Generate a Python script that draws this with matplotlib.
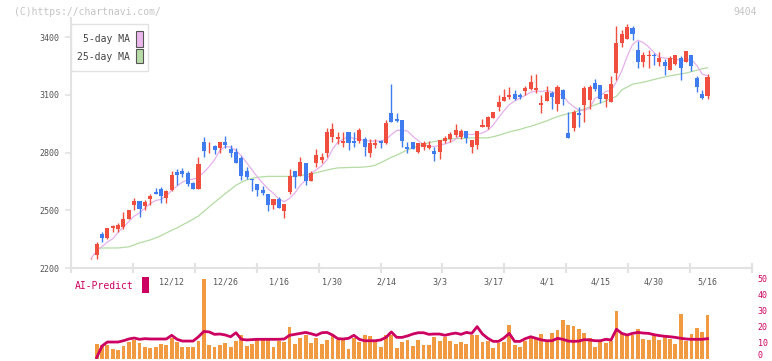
import numpy as np
import pandas as pd
import matplotlib
matplotlib.use("Agg")
import matplotlib.pyplot as plt
from matplotlib.patches import Rectangle

# ---------------- data ----------------
opens = [2250, 2269, 2377, 2356, 2408, 2401, 2411, 2453, 2529, 2549,
         2522, 2560, 2595, 2612, 2564, 2605, 2699, 2705, 2695, 2643,
         2612, 2855, 2832, 2834, 2823, 2855, 2820, 2803, 2771, 2705,
         2662, 2636, 2605, 2584, 2529, 2557, 2498, 2595, 2702, 2678,
         2744, 2654, 2747, 2761, 2796, 2879, 2872, 2851, 2907, 2861,
         2858, 2872, 2799, 2841, 2858, 2851, 3007, 2972, 2969, 2827,
         2855, 2803, 2827, 2824, 2809, 2803, 2861, 2872, 2892, 2882,
         2910, 2830, 2841, 2931, 2934, 2979, 3038, 3069, 3087, 3105,
         3100, 3121, 3128, 3125, 3045, 3069, 3111, 3054, 3123, 2899,
         2926, 3005, 3045, 3074, 3161, 3151, 3078, 3064, 3213, 3369,
         3390, 3445, 3334, 3268, 3302, 3306, 3268, 3268, 3230, 3261,
         3289, 3272, 3306, 3189, 3106, 3095]
highs = [2252, 2335, 2387, 2408, 2422, 2432, 2491, 2501, 2564, 2549,
         2554, 2584, 2616, 2622, 2605, 2705, 2716, 2720, 2705, 2647,
         2778, 2882, 2855, 2840, 2855, 2886, 2840, 2823, 2782, 2726,
         2664, 2636, 2626, 2584, 2557, 2570, 2533, 2716, 2702, 2775,
         2744, 2702, 2817, 2796, 2928, 2952, 2907, 2907, 2907, 2907,
         2928, 2882, 2868, 2872, 2865, 2969, 3156, 3003, 2969, 2855,
         2855, 2848, 2861, 2861, 2827, 2865, 2886, 2907, 2948, 2920,
         2910, 2865, 2913, 2972, 2990, 3010, 3097, 3128, 3138, 3125,
         3107, 3145, 3201, 3208, 3097, 3145, 3121, 3151, 3130, 3012,
         3019, 3036, 3147, 3151, 3182, 3151, 3106, 3199, 3456, 3435,
         3466, 3456, 3379, 3320, 3334, 3316, 3323, 3285, 3303, 3306,
         3299, 3327, 3306, 3196, 3123, 3206]
lows = [2248, 2248, 2335, 2349, 2387, 2387, 2404, 2453, 2501, 2463,
        2501, 2529, 2584, 2539, 2536, 2598, 2633, 2674, 2626, 2612,
        2612, 2778, 2799, 2792, 2796, 2823, 2778, 2747, 2657, 2664,
        2602, 2574, 2581, 2498, 2508, 2512, 2460, 2584, 2616, 2678,
        2633, 2654, 2726, 2747, 2778, 2855, 2844, 2827, 2813, 2827,
        2851, 2782, 2778, 2823, 2823, 2844, 2958, 2958, 2830, 2799,
        2820, 2796, 2813, 2820, 2758, 2768, 2851, 2855, 2882, 2872,
        2851, 2799, 2820, 2931, 2920, 2979, 3017, 3069, 3080, 3073,
        3076, 3097, 3125, 3107, 3007, 3069, 3028, 3014, 3045, 2874,
        2912, 2932, 2960, 3026, 3120, 3057, 3036, 3064, 3178, 3347,
        3390, 3386, 3240, 3244, 3240, 3254, 3251, 3202, 3226, 3254,
        3178, 3272, 3223, 3112, 3078, 3078]
closes = [2252, 2325, 2356, 2408, 2418, 2422, 2456, 2501, 2549, 2505,
          2543, 2574, 2584, 2574, 2602, 2683, 2685, 2688, 2636, 2612,
          2741, 2809, 2836, 2813, 2855, 2841, 2796, 2747, 2678, 2671,
          2658, 2605, 2591, 2529, 2557, 2512, 2533, 2678, 2671, 2751,
          2654, 2692, 2785, 2775, 2907, 2920, 2882, 2861, 2848, 2851,
          2917, 2830, 2851, 2851, 2848, 2955, 2958, 2962, 2861, 2820,
          2820, 2848, 2848, 2841, 2792, 2865, 2875, 2896, 2917, 2913,
          2875, 2865, 2913, 2941, 2983, 3010, 3062, 3087, 3100, 3076,
          3087, 3135, 3166, 3135, 3059, 3114, 3090, 3141, 3078, 2877,
          3009, 2995, 3133, 3140, 3130, 3078, 3106, 3154, 3369, 3414,
          3452, 3414, 3268, 3306, 3306, 3302, 3292, 3247, 3292, 3306,
          3240, 3327, 3247, 3140, 3085, 3192]
ma25 = [np.nan, 2304, 2304, 2304, 2304, 2304, 2307, 2310, 2320, 2331,
        2338, 2346, 2356, 2368, 2382, 2396, 2408, 2424, 2438, 2454,
        2470, 2494, 2518, 2541, 2564, 2586, 2608, 2630, 2645, 2657,
        2666, 2671, 2674, 2676, 2676, 2676, 2676, 2676, 2676, 2680,
        2684, 2688, 2695, 2702, 2709, 2715, 2720, 2721, 2722, 2723,
        2723, 2725, 2728, 2734, 2747, 2761, 2775, 2787, 2800, 2813,
        2824, 2834, 2843, 2851, 2857, 2862, 2867, 2870, 2872, 2873,
        2875, 2876, 2876, 2876, 2876, 2882, 2889, 2898, 2907, 2914,
        2920, 2929, 2936, 2945, 2955, 2964, 2976, 2986, 2995, 3002,
        3009, 3018, 3026, 3037, 3047, 3058, 3068, 3080, 3092, 3125,
        3140, 3155, 3160, 3165, 3172, 3179, 3186, 3192, 3198, 3203,
        3208, 3213, 3220, 3227, 3235, 3240]
volume = [0, 9.1, 8.2, 8.2, 5.7, 5.3, 7.8, 10.3, 11.6, 9.8,
          7.0, 6.6, 7.4, 9.1, 8.2, 12.8, 10.3, 7.4, 7.0, 7.0,
          10.8, 49.9, 8.2, 7.0, 8.2, 9.5, 7.0, 10.8, 14.5, 7.8,
          9.1, 11.6, 11.6, 12.8, 7.0, 11.1, 10.3, 19.5, 9.1, 12.8,
          14.5, 9.9, 12.8, 9.1, 11.6, 15.3, 11.6, 11.6, 5.7, 12.8,
          10.3, 14.5, 14.1, 11.6, 7.0, 15.0, 14.5, 6.6, 10.3, 11.6,
          7.8, 11.6, 8.2, 8.2, 13.6, 11.1, 13.6, 11.1, 9.1, 10.3,
          9.1, 14.5, 14.5, 10.3, 11.1, 6.6, 9.9, 10.3, 21.2, 8.2,
          7.0, 11.1, 12.8, 12.0, 15.3, 11.1, 16.1, 17.8, 24.1, 21.2,
          20.1, 18.7, 16.1, 12.8, 7.0, 11.1, 9.9, 11.1, 29.9, 15.3,
          14.1, 14.5, 18.3, 12.4, 11.6, 14.5, 11.6, 13.2, 12.4, 9.1,
          27.9, 10.8, 15.3, 19.1, 16.6, 27.4]
ai_predict = [np.nan, 0.5, 7.8, 10.3, 10.3, 10.3, 11.1, 12.2, 12.8, 12.0,
              12.4, 12.2, 12.2, 12.2, 12.2, 14.5, 12.0, 10.9, 10.9, 10.9,
              13.6, 16.9, 16.6, 15.1, 15.3, 14.7, 13.6, 16.1, 12.0, 11.6,
              11.8, 12.0, 12.0, 12.0, 12.0, 12.0, 12.2, 14.5, 15.1, 15.7,
              16.3, 15.5, 14.5, 16.1, 16.3, 14.7, 12.4, 12.2, 12.6, 14.5,
              12.0, 11.1, 11.1, 11.1, 11.6, 13.2, 16.6, 13.2, 13.2, 14.1,
              15.3, 16.1, 16.1, 15.1, 15.3, 15.3, 14.5, 15.3, 15.9, 15.1,
              16.3, 15.7, 19.9, 15.3, 12.6, 10.7, 10.7, 12.8, 15.7, 10.7,
              10.7, 12.4, 13.6, 12.6, 11.6, 11.1, 11.1, 12.6, 12.0, 10.9,
              10.7, 10.9, 11.8, 11.6, 11.1, 11.1, 12.0, 11.6, 18.3, 15.7,
              14.7, 15.7, 16.3, 15.9, 15.7, 14.9, 14.3, 13.9, 13.6, 13.2,
              12.6, 12.2, 12.0, 12.0, 12.0, 12.4]
date_pos = [15, 25, 35, 45, 55, 65, 75, 85, 95, 105, 115]
date_labels = ["12/12", "12/26", "1/16", "1/30", "2/14", "3/3",
               "3/17", "4/1", "4/15", "4/30", "5/16"]
price_ticks = [2200, 2500, 2800, 3100, 3400]
vol_ticks = [0, 10, 20, 30, 40, 50]

# ---------------- style ----------------
W, H = 772, 361
MONO = "DejaVu Sans Mono"
RED, BLUE = "#f04e3e", "#3f7cf0"
GRID = "#e2e2e2"
MAG = "#cc0060"

def fx(x):
    return x / W

def fy(y):
    return 1 - y / H

fig = plt.figure(figsize=(W / 100, H / 100), dpi=100)

n = len(closes)
x = np.arange(n)
xl = (-3.79, 123.3)

# ---- top panel ----
ax1 = fig.add_axes([fx(71), fy(268), fx(752) - fx(71), fy(18) - fy(268)])
ax1.set_xlim(*xl)
ax1.set_ylim(2200, 2200 + (268 - 18) * 300 / 57.75)

ma5 = pd.Series(closes).rolling(5, min_periods=1).mean()
ax1.plot(x, ma25, color="#b4dca4", lw=0.9, zorder=2)
ax1.plot(x, ma5, color="#e6b0ec", lw=0.9, zorder=2)

for i in range(n):
    o, h, l, c = opens[i], highs[i], lows[i], closes[i]
    col = RED if c >= o else BLUE
    ax1.vlines(i, l, h, color=col, lw=1.0, zorder=3)
    lo = min(o, c)
    hh = max(abs(c - o), 4)
    ax1.add_patch(Rectangle((i - 0.38, lo), 0.76, hh, facecolor=col,
                            edgecolor="none", zorder=4))

for s in ["top", "right"]:
    ax1.spines[s].set_visible(False)
for s in ["left", "bottom"]:
    ax1.spines[s].set_color(GRID)
    ax1.spines[s].set_linewidth(1.5)
ax1.set_xticks(np.linspace(xl[0], xl[1], 12))
ax1.set_xticklabels([])
ax1.tick_params(axis="x", direction="inout", length=7, width=1.5, color=GRID)
ax1.set_yticks(price_ticks)
ax1.set_yticklabels([str(v) for v in price_ticks], family=MONO,
                    fontsize=6, color="#555555")
ax1.tick_params(axis="y", direction="out", length=4, width=1.2,
                color=GRID, pad=4)

# ---- bottom panel ----
ax2 = fig.add_axes([fx(71), fy(358.5), fx(752) - fx(71), fy(278.5) - fy(358.5)])
ax2.set_xlim(*xl)
ax2.set_ylim(0, 50)
ax2.bar(x, volume, width=0.72, color="#f29a42", zorder=2)
ax2.plot(x, ai_predict, color=MAG, lw=2.0, zorder=3)
for s in ax2.spines.values():
    s.set_visible(False)
ax2.set_xticks([])
ax2.yaxis.tick_right()
ax2.set_yticks(vol_ticks)
ax2.set_yticklabels([str(v) for v in vol_ticks], family=MONO,
                    fontsize=6, color=MAG)
ax2.tick_params(axis="y", length=0, pad=4)
zero_lab = ax2.get_yticklabels()[0]
zero_lab.set_verticalalignment("baseline")
for p, lab in zip(date_pos, date_labels):
    ax2.text(p, 47.8, lab, ha="center", va="center", family=MONO,
             fontsize=6, color="#555555")

# ---- legend (manual) ----
fig.patches.append(Rectangle((fx(71), fy(71)), fx(148) - fx(71), fy(24) - fy(71),
                             transform=fig.transFigure, facecolor="white",
                             edgecolor=GRID, lw=1.0, zorder=5))
fig.patches.append(Rectangle((fx(136), fy(46.7)), fx(142.7) - fx(136),
                             fy(31.3) - fy(46.7), transform=fig.transFigure,
                             facecolor="#eab8ec", edgecolor="#555555",
                             lw=0.8, zorder=6))
fig.patches.append(Rectangle((fx(136), fy(63.3)), fx(142.7) - fx(136),
                             fy(48.7) - fy(63.3), transform=fig.transFigure,
                             facecolor="#b8dca8", edgecolor="#555555",
                             lw=0.8, zorder=6))
fig.text(fx(130), fy(39), "5-day MA", ha="right", va="center", family=MONO,
         fontsize=7, color="#444444", zorder=7)
fig.text(fx(130), fy(56.5), "25-day MA", ha="right", va="center", family=MONO,
         fontsize=7, color="#444444", zorder=7)

# ---- AI-Predict label ----
fig.text(fx(75), fy(286), "AI-Predict", ha="left", va="center", family=MONO,
         fontsize=7, color=MAG, zorder=7)
fig.patches.append(Rectangle((fx(142), fy(293)), fx(149) - fx(142),
                             fy(277) - fy(293), transform=fig.transFigure,
                             facecolor=MAG, edgecolor="none", zorder=6))

# ---- watermark texts ----
fig.text(fx(14), fy(12), "(C)https://chartnavi.com/", ha="left", va="center",
         family=MONO, fontsize=7, color="#c4c4c4")
fig.text(fx(757), fy(12), "9404", ha="right", va="center",
         family=MONO, fontsize=7, color="#c4c4c4")

fig.savefig("out.png", dpi=100)
